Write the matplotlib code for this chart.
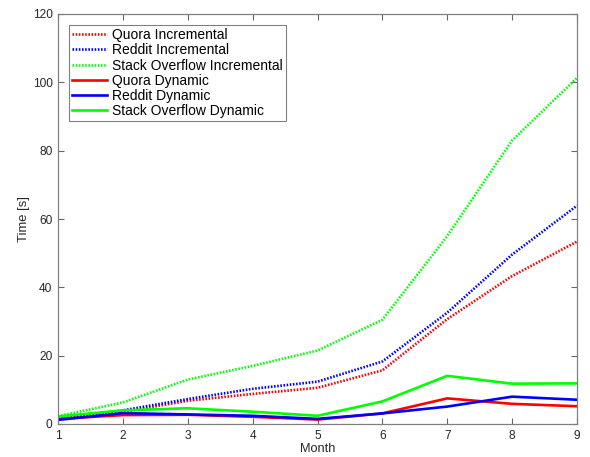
import numpy as np
import matplotlib.pyplot as plt

plt.rcParams['font.family'] = ['Liberation Sans', 'DejaVu Sans']

months = [1, 2, 3, 4, 5, 6, 7, 8, 9]

quora_inc = [1.5, 3.5, 6.8, 8.8, 10.6, 15.7, 30.7, 43.3, 53.4]
reddit_inc = [1.5, 4.0, 7.3, 10.3, 12.4, 18.3, 32.6, 49.6, 63.9]
so_inc = [2.3, 6.3, 13.0, 17.0, 21.5, 30.5, 55.0, 83.0, 101.3]

quora_dyn = [1.5, 2.6, 2.7, 2.1, 1.3, 3.1, 7.5, 5.9, 5.2]
reddit_dyn = [1.2, 3.2, 2.8, 2.4, 1.5, 3.1, 5.1, 8.0, 7.1]
so_dyn = [2.2, 4.0, 4.6, 3.6, 2.4, 6.6, 14.1, 11.8, 11.9]

dotted = (0, (0.6, 0.6))
series = [
    ("Quora Incremental", quora_inc, "#ff0000", dotted),
    ("Reddit Incremental", reddit_inc, "#0000ff", dotted),
    ("Stack Overflow Incremental", so_inc, "#00ff00", dotted),
    ("Quora Dynamic", quora_dyn, "#ff0000", "-"),
    ("Reddit Dynamic", reddit_dyn, "#0000ff", "-"),
    ("Stack Overflow Dynamic", so_dyn, "#00ff00", "-"),
]

fig = plt.figure(figsize=(5.9, 4.57), dpi=100)
ax = fig.add_axes([58 / 590, 1 - 424 / 457, 519 / 590, 410 / 457])

for name, vals, color, ls in series:
    ax.plot(months, vals, color=color, linestyle=ls, linewidth=1.9, label=name)

ax.set_xlim(1, 9)
ax.set_ylim(0, 120)
ax.set_xticks(months)
ax.set_yticks(np.arange(0, 121, 20))
ax.tick_params(direction='in', top=True, right=True, length=4, width=0.8,
               labelsize=8.6, color='#666666', labelcolor='#262626', pad=4)
for sp in ax.spines.values():
    sp.set_color('#808080')
    sp.set_linewidth(0.9)

ax.set_xlabel("Month", fontsize=9.2, color='#262626', labelpad=1)
ax.set_ylabel("Time [s]", fontsize=9.4, color='#262626', labelpad=1.5)

leg = ax.legend(loc='upper left', bbox_to_anchor=(11 / 519, 1 - 11 / 410),
                borderaxespad=0, fontsize=10,
                handlelength=2.55, handletextpad=0.35, labelspacing=0.09,
                borderpad=0.22, fancybox=False, framealpha=1)
leg.get_frame().set_edgecolor('#808080')
leg.get_frame().set_linewidth(0.8)

fig.savefig("out.png", dpi=100)
